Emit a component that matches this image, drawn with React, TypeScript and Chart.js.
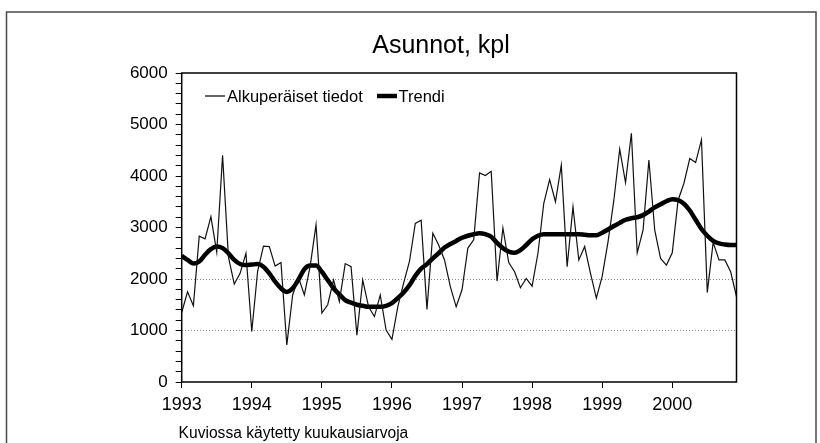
import React, { useEffect, useRef } from 'react';
import { Chart, registerables } from 'chart.js';

Chart.register(...registerables);

// ---- Data ----
const firstYear = 1993;
const yearLabels = [1993, 1994, 1995, 1996, 1997, 1998, 1999, 2000];

const originalData = [
  1350, 1750, 1480, 2830, 2780, 3210, 2520, 4400, 2430, 1900, 2110, 2500,
  980, 2150, 2640, 2630, 2250, 2320, 720, 1690, 2030, 1690, 2250, 3050,
  1340, 1500, 1980, 1560, 2300, 2240, 910, 1980, 1460, 1270, 1690, 1010,
  830, 1460, 1920, 2340, 3080, 3140, 1410, 2890, 2660, 2370, 1850, 1460,
  1790, 2600, 2760, 4060, 4010, 4090, 1960, 2990, 2320, 2140, 1830, 2010,
  1860, 2500, 3470, 3930, 3500, 4210, 2240, 3400, 2370, 2630, 2110, 1630,
  2050, 2720, 3530, 4520, 3870, 4830, 2510, 2950, 4310, 2950, 2400, 2270,
  2510, 3530, 3860, 4340, 4260, 4700, 1740, 2710, 2370, 2370, 2140, 1660,
];

const trendData = [
  2450, 2370, 2300, 2340, 2470, 2580, 2630, 2600, 2500, 2370, 2290, 2270,
  2280, 2290, 2240, 2110, 1950, 1820, 1750, 1820, 1990, 2190, 2260, 2260,
  2140, 1980, 1820, 1700, 1590, 1540, 1500, 1480, 1460, 1460, 1460, 1480,
  1530, 1630, 1740, 1880, 2060, 2200, 2290, 2400, 2500, 2610, 2680, 2740,
  2800, 2840, 2870, 2890, 2870, 2820, 2700, 2600, 2530, 2510, 2560, 2660,
  2770, 2840, 2870, 2870, 2870, 2870, 2870, 2870, 2870, 2860, 2850, 2850,
  2900, 2960, 3030, 3090, 3150, 3180, 3200, 3240, 3310, 3390, 3450, 3510,
  3550, 3530, 3460, 3330, 3150, 2970, 2840, 2740, 2690, 2670, 2660, 2660,
];

const seriesNames = ['Alkuperäiset tiedot', 'Trendi'];
const titleText = 'Asunnot, kpl';
const noteText = 'Kuviossa käytetty kuukausiarvoja';
const gridValues = [1000, 2000];

const FONT = "'Liberation Sans', Arial, Helvetica, sans-serif";

const monthPositions = originalData.map((_, i) => firstYear + i / 12);

const decorPlugin = {
  id: 'decor',
  afterDraw(chart: any) {
    const { ctx, chartArea } = chart;
    ctx.save();
    // outer frame
    ctx.strokeStyle = '#4a4a4a';
    ctx.lineWidth = 1.5;
    ctx.beginPath();
    ctx.moveTo(6.5, 460);
    ctx.lineTo(6.5, 12);
    ctx.lineTo(816, 12);
    ctx.lineTo(816, 460);
    ctx.stroke();

    // plot frame
    ctx.strokeStyle = '#000';
    ctx.lineWidth = 1.5;
    ctx.strokeRect(chartArea.left, chartArea.top, chartArea.right - chartArea.left, chartArea.bottom - chartArea.top);

    // title
    ctx.fillStyle = '#000';
    ctx.font = `25px ${FONT}`;
    ctx.textAlign = 'center';
    ctx.textBaseline = 'alphabetic';
    ctx.fillText(titleText, 441, 53);

    // legend
    ctx.font = `16.5px ${FONT}`;
    ctx.textAlign = 'left';
    const ly = 96;
    ctx.lineWidth = 1.2;
    ctx.beginPath();
    ctx.moveTo(205, ly);
    ctx.lineTo(225, ly);
    ctx.stroke();
    ctx.fillText(seriesNames[0], 227, ly + 6);
    ctx.lineWidth = 4.5;
    ctx.beginPath();
    ctx.moveTo(377, ly);
    ctx.lineTo(397, ly);
    ctx.stroke();
    ctx.fillText(seriesNames[1], 398.5, ly + 6);

    // note
    ctx.font = `15.6px ${FONT}`;
    ctx.fillText(noteText, 178.6, 438);
    ctx.restore();
  },
};

export default function App() {
  const canvasRef = useRef<HTMLCanvasElement | null>(null);

  useEffect(() => {
    const canvas = canvasRef.current;
    if (!canvas) return;
    const chart = new Chart(canvas, {
      type: 'line',
      data: {
        labels: monthPositions,
        datasets: [
          {
            label: seriesNames[0],
            data: originalData,
            borderColor: '#111',
            borderWidth: 1.2,
            pointRadius: 0,
            tension: 0,
            fill: false,
          },
          {
            label: seriesNames[1],
            data: trendData,
            borderColor: '#000',
            borderWidth: 4.5,
            pointRadius: 0,
            tension: 0.4,
            cubicInterpolationMode: 'monotone',
            fill: false,
          },
        ],
      },
      options: {
        animation: false,
        responsive: false,
        devicePixelRatio: 1,
        layout: { padding: { top: 73, left: 0, right: 83.5, bottom: 0 } },
        plugins: {
          legend: { display: false },
          title: { display: false },
          tooltip: { enabled: false },
        },
        scales: {
          x: {
            type: 'linear',
            min: firstYear,
            max: firstYear + (originalData.length - 1) / 12,
            afterFit: (s: any) => { s.height = 61; },
            border: { display: false },
            grid: {
              drawOnChartArea: false,
              drawTicks: true,
              tickLength: 6,
              tickColor: '#000',
              tickWidth: 1,
            },
            ticks: {
              stepSize: 1,
              includeBounds: false,
              autoSkip: false,
              maxRotation: 0,
              padding: 6,
              color: '#000',
              font: { family: FONT, size: 18 },
              callback: (v: any) => (yearLabels.includes(Number(v)) ? String(v) : ''),
            },
          },
          y: {
            min: 0,
            max: 6000,
            afterFit: (s: any) => { s.width = 181.7; },
            border: { display: false, dash: [1, 2] },
            grid: {
              color: (c: any) => (c.tick && gridValues.includes(c.tick.value) ? '#8a8a8a' : 'rgba(0,0,0,0)'),
              lineWidth: 1,
              drawTicks: true,
              tickLength: 6,
              tickColor: '#000',
              tickWidth: 1,
            },
            ticks: {
              stepSize: 200,
              maxTicksLimit: 100,
              autoSkip: false,
              padding: 8,
              color: '#000',
              font: { family: FONT, size: 17 },
              callback: (v: any) => (Number(v) % 1000 === 0 ? String(v) : ''),
            },
          },
        },
      },
      plugins: [decorPlugin],
    } as any);
    return () => chart.destroy();
  }, []);

  return (
    <div style={{ position: 'fixed', left: 0, top: 0, width: 820, height: 443, background: '#fff' }}>
      <canvas ref={canvasRef} width={820} height={443} style={{ display: 'block' }} />
    </div>
  );
}
